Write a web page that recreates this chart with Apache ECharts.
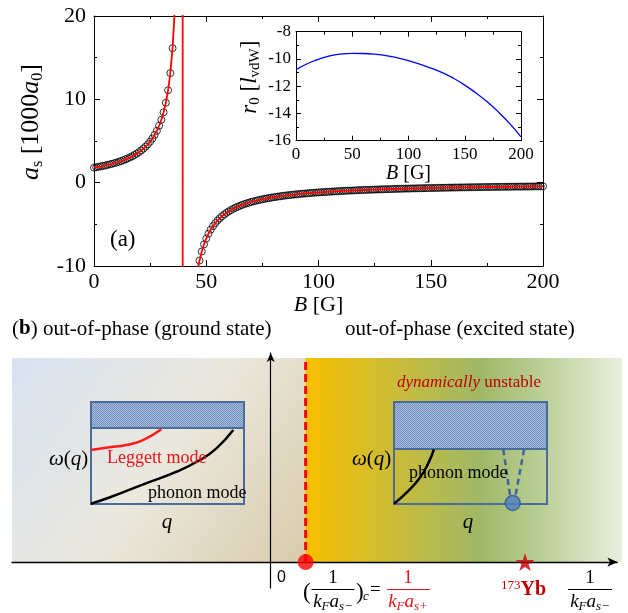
<!DOCTYPE html>
<html><head><meta charset="utf-8">
<script src="https://cdn.jsdelivr.net/npm/echarts@6/dist/echarts.min.js"></script>
<style>html,body{margin:0;padding:0;background:#fff}#c{width:628px;height:613px}</style>
</head><body><div id="c"></div>
<script>
// ---------- (a) main panel data ----------
const leftB = [0,1,2,3,4,5,6,7,8,9,10,11,12,13,14,15,16,17,18,19,20,21,22,23,24,25,26,27,28,29,30,31,32,33,34,35];
const leftAs = [1.80,1.85,1.90,1.95,2.01,2.06,2.13,2.19,2.26,2.34,2.41,2.50,2.59,2.69,2.80,2.91,3.03,3.17,3.32,3.48,3.66,3.86,4.08,4.33,4.61,4.93,5.30,5.73,6.23,6.83,7.55,8.45,9.59,11.09,13.15,16.14];
const rightB = [47,48,49,50,51,52,53,54,55,56,57,58,59,60,61,62,63,64,65,66,67,68,69,70,71,72,73,74,75,76,77,78,79,80,81,82,83,84,85,86,87,88,89,90,91,92,93,94,95,96,97,98,99,100,101,102,103,104,105,106,107,108,109,110,111,112,113,114,115,116,117,118,119,120,121,122,123,124,125,126,127,128,129,130,131,132,133,134,135,136,137,138,139,140,141,142,143,144,145,146,147,148,149,150,151,152,153,154,155,156,157,158,159,160,161,162,163,164,165,166,167,168,169,170,171,172,173,174,175,176,177,178,179,180,181,182,183,184,185,186,187,188,189,190,191,192,193,194,195,196,197,198,199,200];
const rightAs = [-9.34,-8.26,-7.40,-6.70,-6.12,-5.63,-5.22,-4.86,-4.55,-4.28,
-4.03,-3.82,-3.62,-3.45,-3.29,-3.14,-3.01,-2.89,-2.77,-2.67,
-2.57,-2.48,-2.40,-2.32,-2.25,-2.18,-2.11,-2.05,-1.99,-1.94,
-1.89,-1.84,-1.79,-1.75,-1.71,-1.67,-1.63,-1.59,-1.56,-1.52,
-1.49,-1.46,-1.43,-1.40,-1.38,-1.35,-1.32,-1.30,-1.28,-1.25,
-1.23,-1.21,-1.19,-1.17,-1.15,-1.13,-1.12,-1.10,-1.08,-1.07,
-1.05,-1.03,-1.02,-1.01,-0.99,-0.98,-0.96,-0.95,-0.94,-0.93,
-0.91,-0.90,-0.89,-0.88,-0.87,-0.86,-0.85,-0.84,-0.83,-0.82,
-0.81,-0.80,-0.79,-0.78,-0.78,-0.77,-0.76,-0.75,-0.74,-0.73,
-0.73,-0.72,-0.71,-0.71,-0.70,-0.69,-0.69,-0.68,-0.67,-0.67,
-0.66,-0.65,-0.65,-0.64,-0.64,-0.63,-0.63,-0.62,-0.61,-0.61,
-0.60,-0.60,-0.59,-0.59,-0.58,-0.58,-0.57,-0.57,-0.57,-0.56,
-0.56,-0.55,-0.55,-0.54,-0.54,-0.54,-0.53,-0.53,-0.52,-0.52,
-0.52,-0.51,-0.51,-0.50,-0.50,-0.50,-0.49,-0.49,-0.49,-0.48,
-0.48,-0.48,-0.47,-0.47,-0.47,-0.47,-0.46,-0.46,-0.46,-0.45,
-0.45,-0.45,-0.45,-0.44];
// fit curve near the resonance pole (continues the fit through the divergence)
const poleB = [36,36.5,37,38,39,39.5,39.5,40,41,42,43,44,45,46,46.5];
const poleAs = [20.88,24.48,29.58,50.71,177.5,2000,-2000,-118.3,-44.38,-27.31,-19.72,-15.43,-12.68,-10.76,-10.0];
// inset data
const insetB = [0,10,20,30,40,50,60,70,80,90,100,110,120,130,140,150,160,170,180,190,200];
const insetR0 = [-10.78,-10.35,-10.03,-9.78,-9.64,-9.59,-9.60,-9.65,-9.75,-9.92,-10.13,-10.38,-10.67,-11.0,-11.42,-11.92,-12.5,-13.15,-13.9,-14.75,-15.72];

// ---------- (b) schematic data ----------
const critX = 0.135;   // (1/kF a_s-)_c
const ybX = 0.983;     // 173Yb
const leggettQ = [0,0.12,0.23,0.34,0.46];
const leggettW = [0.53,0.556,0.578,0.627,0.732];
const phononLQ = [0,0.124,0.342,0.56,0.712,0.82,0.93];
const phononLW = [0.003,0.066,0.193,0.317,0.431,0.546,0.725];
const phononRQ = [0,0.087,0.174,0.229,0.261];
const phononRW = [0.003,0.12,0.267,0.415,0.536];
const dashLQ = [0.714,0.758], dashLW = [0.536,0.088];
const dashRQ = [0.85,0.795], dashRW = [0.536,0.088];
const unstQ = [0.776], unstW = [0.01];

const zip = (a,b)=>a.map((v,i)=>[v,b[i]]);
const serif = 'Liberation Serif';

function makeHatch(){
  const cv=document.createElement('canvas'); cv.width=2; cv.height=2;
  const ctx=cv.getContext('2d');
  ctx.fillStyle='#abbcd8'; ctx.fillRect(0,0,2,2);
  ctx.fillStyle='#7391c0'; ctx.fillRect(0,0,1,1); ctx.fillRect(1,1,1,1);
  return cv;
}
const hatch = makeHatch();

function ax(extra){
  return Object.assign({
    type:'value',
    axisLine:{show:true,onZero:false,lineStyle:{color:'#000',width:1}},
    axisTick:{show:true,inside:true,length:6,lineStyle:{color:'#000'}},
    minorTick:{show:true,splitNumber:2,length:3,lineStyle:{color:'#000'}},
    splitLine:{show:false}, minorSplitLine:{show:false}
  }, extra);
}
const mainLbl = {fontFamily:serif,fontSize:22,color:'#000'};
const insLbl = {fontFamily:serif,fontSize:17,color:'#000'};
const hidden = {show:false};
function hid(gi,min,max){return {type:'value',gridIndex:gi,min:min,max:max,show:false,splitLine:{show:false}};}

// ---------- graphic elements ----------
const G = [];
G.push({type:'rect',z:-10,shape:{x:12,y:358,width:294,height:204},
  style:{fill:new echarts.graphic.LinearGradient(0,0,1,1,[{offset:0,color:'#d8e3f2'},{offset:0.5,color:'#ebe8de'},{offset:1,color:'#d9cbab'}])}});
G.push({type:'rect',z:-10,shape:{x:305.5,y:358,width:316.5,height:204},
  style:{fill:new echarts.graphic.LinearGradient(0,0,1,0,[{offset:0,color:'#f8bf00'},{offset:0.3,color:'#c8bc3c'},{offset:0.55,color:'#9fb866'},{offset:0.75,color:'#bccf98'},{offset:1,color:'#e9f0de'}])}});
G.push({type:'rect',z:3,shape:{x:91,y:402,width:153,height:26},style:{fill:{image:hatch,repeat:'repeat'},stroke:'#4a6c9c',lineWidth:2}});
G.push({type:'rect',z:3,shape:{x:394,y:402,width:153,height:47},style:{fill:{image:hatch,repeat:'repeat'},stroke:'#4a6c9c',lineWidth:2}});

function txt(x,y,text,o){
  G.push({type:'text',z:10,x:x,y:y,style:Object.assign({text:text,fontFamily:serif,fontSize:19,fill:'#000',align:'left',verticalAlign:'middle'},o||{})});
}
txt(110,240,'(a)',{fontSize:23});
txt(12,329,'({b|b}) out-of-phase (ground state)',{fontSize:21,rich:{b:{fontWeight:'bold',fontSize:21,fontFamily:serif}}});
txt(345,329,'out-of-phase (excited state)',{fontSize:21});
txt(397,383,'{i|dynamically} unstable',{fill:'#c00000',fontSize:17,rich:{i:{fontStyle:'italic',fontSize:17,fontFamily:serif,fill:'#c00000'}}});
txt(49,459,'{i|ω}({i|q})',{fontSize:21,rich:{i:{fontStyle:'italic',fontSize:21,fontFamily:serif}}});
txt(352,459,'{i|ω}({i|q})',{fontSize:21,rich:{i:{fontStyle:'italic',fontSize:21,fontFamily:serif}}});
txt(167,522,'q',{fontStyle:'italic',fontSize:21,align:'center'});
txt(468,522,'q',{fontStyle:'italic',fontSize:21,align:'center'});
txt(107,458,'Leggett mode',{fill:'#e8141b',fontSize:18});
txt(148,493,'phonon mode',{fontSize:18});
txt(409,473,'phonon mode',{fontSize:18});
txt(277,578,'0',{fontFamily:'Liberation Sans',fontSize:16});
// fractions
const fr = {k:{fontStyle:'italic',fontSize:19,fontFamily:serif},s:{fontStyle:'italic',fontSize:13,fontFamily:serif,padding:[9,0,0,0]}};
function frac(cx,x1,x2,color){
  txt(cx,578,'1',{align:'center',fill:color,fontSize:19});
  G.push({type:'line',z:10,shape:{x1:x1,y1:589.5,x2:x2,y2:589.5},style:{stroke:color,lineWidth:1.2}});
  const r = JSON.parse(JSON.stringify(fr)); r.k.fill=color; r.s.fill=color;
  return r;
}
let r1 = frac(333,311.5,354.5,'#000');
txt(333,602,'{k|k}{s|F}{k|a}{s|s−}',{align:'center',rich:r1});
txt(303,593,'(',{fontSize:23});
txt(356,593,')',{fontSize:23});
txt(363,597,'c',{fontStyle:'italic',fontSize:13});
txt(370,590,'=',{fontSize:19});
let r2 = frac(408,387,430,'#e8141b');
txt(408,602,'{k|k}{s|F}{k|a}{s|s+}',{align:'center',rich:r2});
let r3 = frac(590,568,612,'#000');
txt(590,602,'{k|k}{s|F}{k|a}{s|s−}',{align:'center',rich:r3});
txt(501,590,'{sup|173}{b|Yb}',{fill:'#c00000',rich:{sup:{fontSize:13,fontFamily:serif,fill:'#c00000',padding:[0,0,9,0]},b:{fontWeight:'bold',fontSize:20,fontFamily:serif,fill:'#c00000'}}});

const starPath = 'path://M50,0 L61,35 L98,35 L68,57 L79,91 L50,70 L21,91 L32,57 L2,35 L39,35 Z';

const option = {
  animation:false,
  backgroundColor:'#fff',
  grid:[
    {left:94,top:16,width:449,height:250},
    {left:296,top:31.7,width:225,height:109,backgroundColor:'#fff',show:true,borderWidth:0},
    {left:12,top:353,width:605.4,height:235},
    {left:91,top:402,width:153,height:102,show:true,borderColor:'#4a6c9c',borderWidth:2,backgroundColor:'transparent'},
    {left:394,top:402,width:153,height:102,show:true,borderColor:'#4a6c9c',borderWidth:2,backgroundColor:'transparent'}
  ],
  xAxis:[
    ax({gridIndex:0,min:0,max:200,interval:50,position:'bottom',axisLabel:Object.assign({margin:5},mainLbl),
      name:'{i|B} [G]',nameLocation:'middle',nameGap:15,
      nameTextStyle:{fontFamily:serif,fontSize:22,color:'#000',rich:{i:{fontStyle:'italic',fontSize:22,fontFamily:serif}}}}),
    ax({gridIndex:0,min:0,max:200,interval:50,position:'top',axisLabel:hidden}),
    ax({gridIndex:1,min:0,max:200,interval:50,position:'bottom',axisLabel:Object.assign({margin:5},insLbl),axisTick:{show:true,inside:true,length:5,lineStyle:{color:'#000'}},
      name:'{i|B} [G]',nameLocation:'middle',nameGap:17,
      nameTextStyle:{fontFamily:serif,fontSize:20,color:'#000',rich:{i:{fontStyle:'italic',fontSize:20,fontFamily:serif}}}}),
    ax({gridIndex:1,min:0,max:200,interval:50,position:'top',axisLabel:hidden,axisTick:{show:true,inside:true,length:5,lineStyle:{color:'#000'}}}),
    {type:'value',gridIndex:2,min:-1,max:1.34,axisLine:{show:true,onZero:true,symbol:['none','arrow'],symbolSize:[7,10],lineStyle:{color:'#000',width:1.3}},axisTick:hidden,axisLabel:hidden,splitLine:hidden},
    hid(3,0,1), hid(4,0,1)
  ],
  yAxis:[
    ax({gridIndex:0,min:-10,max:20,interval:10,position:'left',axisLabel:Object.assign({margin:8},mainLbl),
      name:'{i|a}{s|s} [1000{i|a}{s|0}]',nameLocation:'middle',nameRotate:90,nameGap:35,
      nameTextStyle:{fontFamily:serif,fontSize:26,color:'#000',padding:[0,0,0,38],
        rich:{i:{fontStyle:'italic',fontSize:26,fontFamily:serif},s:{fontSize:16,fontFamily:serif,padding:[13,0,0,0]}}}}),
    ax({gridIndex:0,min:-10,max:20,interval:10,position:'right',axisLabel:hidden}),
    ax({gridIndex:1,min:-16,max:-8,interval:2,position:'left',axisLabel:Object.assign({margin:5},insLbl),axisTick:{show:true,inside:true,length:5,lineStyle:{color:'#000'}},
      name:'{i|r}{s|0} [{i|l}{s|vdW}]',nameLocation:'middle',nameRotate:90,nameGap:33,
      nameTextStyle:{fontFamily:serif,fontSize:23,color:'#000',padding:[0,0,0,18],
        rich:{i:{fontStyle:'italic',fontSize:23,fontFamily:serif},s:{fontSize:15,fontFamily:serif,padding:[11,0,0,0]}}}}),
    ax({gridIndex:1,min:-16,max:-8,interval:2,position:'right',axisLabel:hidden,axisTick:{show:true,inside:true,length:5,lineStyle:{color:'#000'}}}),
    {type:'value',gridIndex:2,min:-0.124,max:1,axisLine:{show:true,onZero:true,symbol:['none','arrow'],symbolSize:[6,9],lineStyle:{color:'#000',width:1.2}},axisTick:hidden,axisLabel:hidden,splitLine:hidden},
    hid(3,0,1), hid(4,0,1)
  ],
  series:[
    {type:'scatter',xAxisIndex:0,yAxisIndex:0,symbol:'circle',symbolSize:7,z:2,
      itemStyle:{color:'rgba(255,255,255,0)',borderColor:'#000',borderWidth:1},
      data:zip(leftB,leftAs).concat(zip(rightB,rightAs))},
    {type:'line',xAxisIndex:0,yAxisIndex:0,showSymbol:false,clip:true,z:3,
      lineStyle:{color:'#ff0000',width:1.8},
      data:zip(leftB,leftAs).concat(zip(poleB,poleAs)).concat(zip(rightB,rightAs))},
    {type:'line',xAxisIndex:2,yAxisIndex:2,showSymbol:false,smooth:true,lineStyle:{color:'#0000ff',width:1.3},
      data:zip(insetB,insetR0)},
    // (b) main axis markers
    {type:'line',xAxisIndex:4,yAxisIndex:4,showSymbol:false,z:4,lineStyle:{color:'#ff0000',width:3,type:[8,4]},
      data:[[critX,0],[critX,0.976]]},
    {type:'scatter',xAxisIndex:4,yAxisIndex:4,symbol:'circle',symbolSize:16,z:5,itemStyle:{color:'#ff0000'},data:[[critX,0]]},
    {type:'scatter',xAxisIndex:4,yAxisIndex:4,symbol:starPath,symbolSize:[19,18],z:5,itemStyle:{color:'#c00000'},data:[[ybX,0]]},
    // insets of (b)
    {type:'line',xAxisIndex:5,yAxisIndex:5,showSymbol:false,smooth:true,z:5,lineStyle:{color:'#ff1a1a',width:2.5},data:zip(leggettQ,leggettW)},
    {type:'line',xAxisIndex:5,yAxisIndex:5,showSymbol:false,smooth:true,z:5,lineStyle:{color:'#000',width:2.5},data:zip(phononLQ,phononLW)},
    {type:'line',xAxisIndex:6,yAxisIndex:6,showSymbol:false,smooth:true,z:5,lineStyle:{color:'#000',width:2.5},data:zip(phononRQ,phononRW)},
    {type:'line',xAxisIndex:6,yAxisIndex:6,showSymbol:false,z:5,lineStyle:{color:'#3d66a0',width:2.5,type:[6,4]},data:zip(dashLQ,dashLW)},
    {type:'line',xAxisIndex:6,yAxisIndex:6,showSymbol:false,z:5,lineStyle:{color:'#3d66a0',width:2.5,type:[6,4]},data:zip(dashRQ,dashRW)},
    {type:'scatter',xAxisIndex:6,yAxisIndex:6,symbol:'circle',symbolSize:15,z:6,clip:false,itemStyle:{color:'#4d80c4',borderColor:'#2f5690',borderWidth:1.5},data:zip(unstQ,unstW)}
  ],
  graphic:{elements:G}
};
const chart = echarts.init(document.getElementById('c'));
chart.setOption(option);
</script>
</body></html>
